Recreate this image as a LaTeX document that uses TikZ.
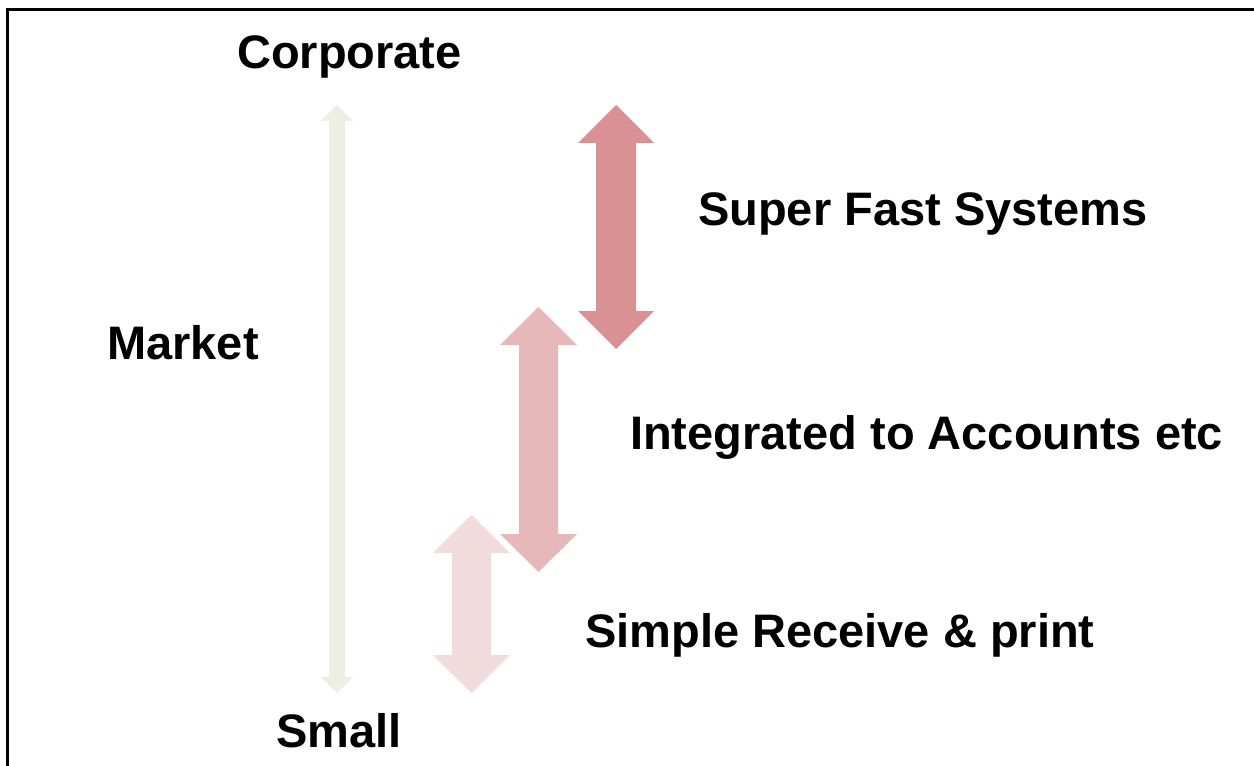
\documentclass[tikz,border=0pt]{standalone}
\usepackage{fontspec}
\setmainfont{Liberation Sans}
\newcommand{\dblarrow}[7]{% color, cx, ytop, ybot, shaft half, head half, head length
  \fill[#1] (#2,#3) -- (#2+#6,#3+#7) -- (#2+#5,#3+#7) -- (#2+#5,#4-#7) -- (#2+#6,#4-#7)
    -- (#2,#4) -- (#2-#6,#4-#7) -- (#2-#5,#4-#7) -- (#2-#5,#3+#7) -- (#2-#6,#3+#7) -- cycle;}
\definecolor{beige}{RGB}{238,238,226}
\definecolor{redA}{RGB}{217,145,147}
\definecolor{redB}{RGB}{230,184,185}
\definecolor{redC}{RGB}{242,220,219}
\tikzset{lbl/.style={anchor=base west, inner sep=0pt, font=\fontsize{47}{56}\selectfont\bfseries, text=black}}
\begin{document}
\begin{tikzpicture}[x=1pt,y=-1pt]
\useasboundingbox (0,0) rectangle (1254,766);
\fill[white] (0,0) rectangle (1254,766);
\draw[line width=3pt] (7,766) -- (7,9) -- (1254,9);
% arrows
\dblarrow{beige}{337}{105}{693}{8}{16}{16}
\dblarrow{redC}{471.5}{515}{693}{19.5}{38.5}{38}
\dblarrow{redB}{538.5}{307}{572}{19.5}{38.5}{38}
\dblarrow{redA}{616}{105}{349}{20}{38}{38}
% labels
\node[lbl] (corp) at (237,68) {Corporate};
\node[lbl] (market) at (107,359) {Market};
\node[lbl] (small) at (276,747) {Small};
\node[lbl] (sfs) at (698,225) {Super Fast Systems};
\node[lbl] (ita) at (630,449) {Integrated to Accounts etc};
\node[lbl] (srp) at (585,647) {Simple Receive \& print};
\end{tikzpicture}
\end{document}
